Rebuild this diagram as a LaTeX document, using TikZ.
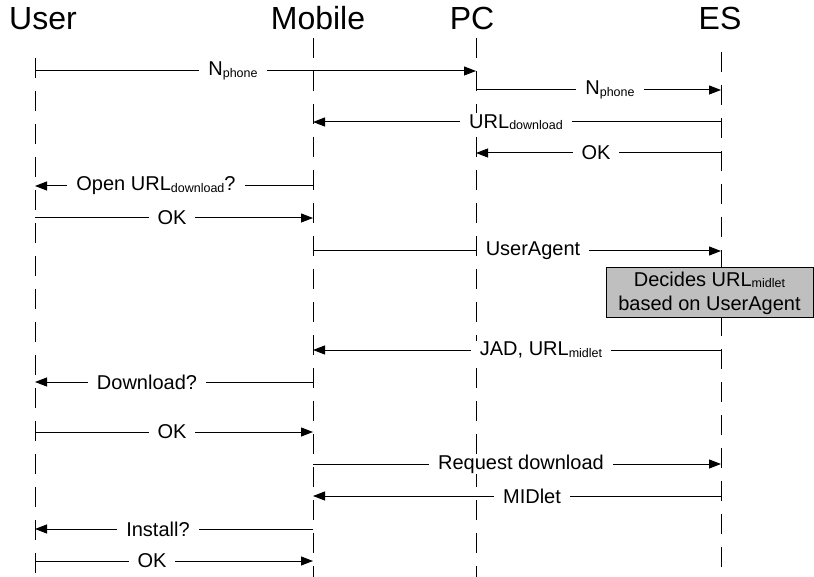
\documentclass[tikz,border=0pt]{standalone}
\usepackage{fontspec}
\setmainfont{Liberation Sans}
\usetikzlibrary{arrows.meta}
\newcommand{\sbs}[1]{\raisebox{-1.5pt}{\fontsize{12.5}{13}\selectfont #1}}
\tikzset{
  lifeline/.style={line width=1pt, dash pattern=on 20pt off 13pt},
  msg/.style={line width=1pt, -{Triangle[length=12pt,width=9pt]}},
  lbl/.style={fill=white, inner xsep=9pt, inner ysep=1pt, font=\fontsize{20}{22}\selectfont},
  ttl/.style={anchor=base, inner sep=0pt, font=\fontsize{32}{34}\selectfont},
  notebox/.style={draw, line width=1pt, fill=black!25, inner sep=0pt, minimum width=207pt, minimum height=50pt, align=center, font=\fontsize{20}{24}\selectfont}
}
\begin{document}
\begin{tikzpicture}[x=1pt,y=-1pt]
\useasboundingbox (0,0) rectangle (814,577);
% titles
\node[ttl] (tU) at (43,30) {User};
\node[ttl] (tM) at (318,30) {Mobile};
\node[ttl] (tP) at (472,30) {PC};
\node[ttl] (tE) at (720,30) {ES};
% lifelines
\coordinate (U) at (35,58);  \coordinate (Ub) at (35,577);
\coordinate (M) at (313,38); \coordinate (Mb) at (313,577);
\coordinate (P) at (476,38); \coordinate (Pb) at (476,577);
\coordinate (E) at (721,52); \coordinate (Eb) at (721,577);
\draw[lifeline] (U) -- (Ub);
\draw[lifeline] (M) -- (Mb);
\draw[lifeline] (P) -- (Pb);
\draw[lifeline] (E) -- (Eb);
% messages
\draw[msg] (U |- 0,71) -- (P |- 0,71);
\node[lbl] (l1) at (233,71) {N\sbs{phone}};
\draw[msg] (P |- 0,90) -- (E |- 0,90);
\node[lbl] (l2) at (610,90) {N\sbs{phone}};
\draw[msg] (E |- 0,122) -- (M |- 0,122);
\node[lbl] (l3) at (516,122) {URL\sbs{download}};
\draw[msg] (E |- 0,153) -- (P |- 0,153);
\node[lbl] (l4) at (596,153) {OK};
\draw[msg] (M |- 0,186) -- (U |- 0,186);
\node[lbl] (l5) at (156,186) {Open URL\sbs{download}?};
\draw[msg] (U |- 0,218) -- (M |- 0,218);
\node[lbl] (l6) at (172,218) {OK};
\draw[msg] (M |- 0,251) -- (E |- 0,251);
\node[lbl] (l7) at (533,251) {UserAgent};
\node[notebox] (box) at (709.5,293) {Decides URL\sbs{midlet}\\based on UserAgent};
\draw[msg] (E |- 0,350) -- (M |- 0,350);
\node[lbl] (l8) at (541,350) {JAD, URL\sbs{midlet}};
\draw[msg] (M |- 0,382) -- (U |- 0,382);
\node[lbl] (l9) at (147,382) {Download?};
\draw[msg] (U |- 0,432) -- (M |- 0,432);
\node[lbl] (l10) at (172,432) {OK};
\draw[msg] (M |- 0,464) -- (E |- 0,464);
\node[lbl] (l11) at (521,464) {Request download};
\draw[msg] (E |- 0,496) -- (M |- 0,496);
\node[lbl] (l12) at (532,496) {MIDlet};
\draw[msg] (M |- 0,529) -- (U |- 0,529);
\node[lbl] (l13) at (158,529) {Install?};
\draw[msg] (U |- 0,561) -- (M |- 0,561);
\node[lbl] (l14) at (152,561) {OK};
\end{tikzpicture}
\end{document}
